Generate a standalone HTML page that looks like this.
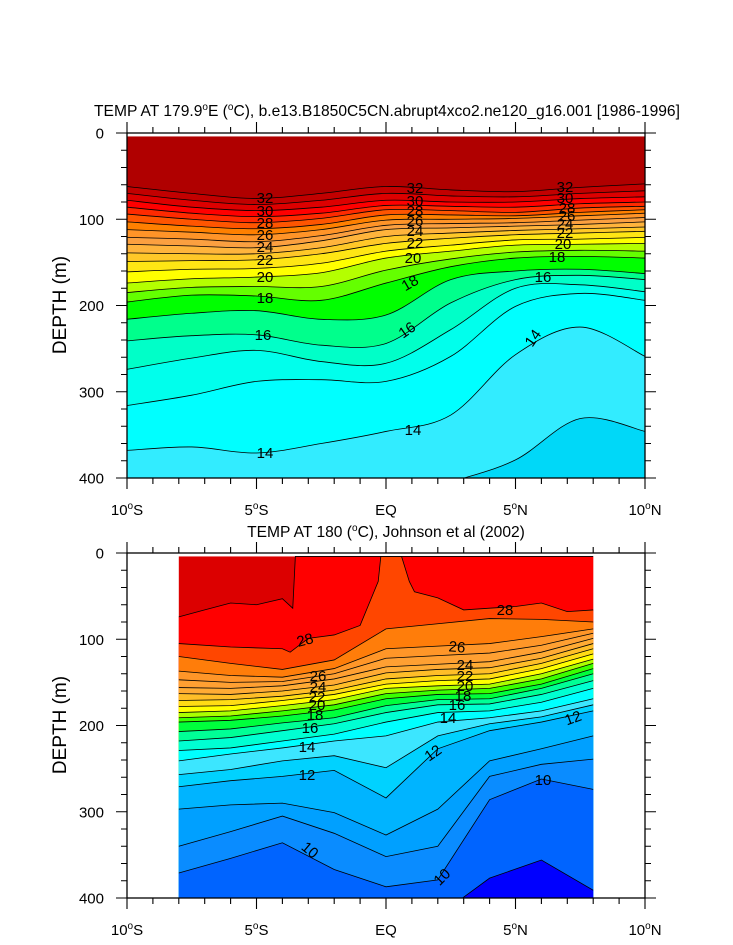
<!DOCTYPE html>
<html><head><meta charset="utf-8"><style>
html,body{margin:0;padding:0;background:#fff;}
svg{display:block;font-family:"Liberation Sans",Arial,sans-serif;}
</style></head><body>
<svg id="fig" width="733" height="945" viewBox="0 0 733 945" xmlns="http://www.w3.org/2000/svg">
<defs>
<clipPath id="clipTop"><rect x="127" y="133" width="518" height="345"/></clipPath>
<clipPath id="clipBot"><rect x="127" y="553" width="518" height="345"/></clipPath>
</defs>
<g id="topFill" clip-path="url(#clipTop)"></g>
<g id="botFill" clip-path="url(#clipBot)"></g>
<g id="topLabels" font-size="15" text-anchor="middle"></g>
<g id="botLabels" font-size="15" text-anchor="middle"></g>
<g id="axes"></g>
<text x="387" y="116" font-size="15.6" text-anchor="middle">TEMP AT 179.9<tspan dy="-6" font-size="10">o</tspan><tspan dy="6">E (</tspan><tspan dy="-6" font-size="10">o</tspan><tspan dy="6">C), b.e13.B1850C5CN.abrupt4xco2.ne120_g16.001 [1986-1996]</tspan></text>
<text x="386" y="537" font-size="15.6" text-anchor="middle">TEMP AT 180 (<tspan dy="-6" font-size="10">o</tspan><tspan dy="6">C), Johnson et al (2002)</tspan></text>
<text transform="translate(66,305) rotate(-90)" font-size="19" text-anchor="middle">DEPTH (m)</text>
<text transform="translate(66,725) rotate(-90)" font-size="19" text-anchor="middle">DEPTH (m)</text>
</svg>
<script>
// ---------- top panel (model) data ----------
const topLats = [-10, -7.5, -5, -2.5, 0, 2.5, 5, 7.5, 10];
const topLevels = [32, 31, 30, 29, 28, 27, 26, 25, 24, 23, 22, 21, 20, 19, 18, 17, 16, 15.5, 15, 14, 13];
const top32 = [62, 70, 76, 70, 62, 66, 68, 63, 59];
const top31 = [70, 78, 83, 78, 70, 73, 74, 70, 67];
const top30 = [78, 86, 90, 86, 78, 80, 80, 76, 74];
const top29 = [86, 93, 97, 93, 84, 85, 86, 82, 80];
const top28 = [94, 100, 104, 99, 89, 90, 92, 87, 85];
const top27 = [103, 108, 111, 106, 95, 95, 96, 92, 89];
const top26 = [112, 115, 118, 112, 101, 100, 99, 96, 93];
const top25 = [121, 123, 126, 119, 107, 105, 104, 101, 98];
const top24 = [129, 131, 133, 125, 112, 110, 108, 106, 103];
const top23 = [139, 140, 140, 133, 120, 116, 113, 111, 109];
const top22 = [149, 148, 147, 140, 128, 122, 118, 116, 114];
const top21 = [161, 158, 157, 151, 137, 130, 124, 123, 121];
const top20 = [174, 169, 167, 162, 145, 137, 130, 129, 128];
const top19 = [185, 179, 178, 178, 159, 146, 138, 136, 137];
const top18 = [196, 188, 189, 194, 174, 155, 145, 143, 145];
const top17 = [216, 209, 206, 216, 211, 170, 160, 158, 163];
const top16 = [241, 235, 234, 246, 244, 197, 170, 165, 170];
const top155 = [274, 261, 252, 265, 267, 228, 180, 176, 184];
const top15 = [316, 304, 288, 286, 288, 259, 201, 186, 194];
const top14 = [368, 364, 371, 360, 346, 327, 257, 225, 259];
const top13 = [430, 430, 430, 430, 430, 405, 379, 331, 346];
const topDepths = [top32, top31, top30, top29, top28, top27, top26, top25, top24, top23, top22, top21, top20, top19, top18, top17, top16, top155, top15, top14, top13];
const topColors = ['#b00000','#c20000','#dd0000','#ff0000','#ff2a00','#ff5500','#ff8000','#ff9428','#fba040','#ffb43c','#ffc828','#ffe614','#ffff00','#b4ff00','#64ff00','#00ff00','#00ff8c','#00ffc8','#00ffec','#00ffff','#32ecff','#00d8f8'];

// ---------- bottom panel (observations) data ----------
const botLats = [-8, -6, -4, -2, 0, 2, 4, 6, 8];
const bot29Lats = [-8, -7, -6, -5, -4, -3.6, -3.5, 8];
const bot29 = [74, 66, 58, 60, 53, 64, 0, 0];
const bot28Lats = [-8, -6, -4, -3.7, -3, -2, -1, -0.3, -0.2, 0.6, 0.9, 1.1, 2, 3, 4, 5, 6, 7, 8];
const bot28 = [105, 109, 111, 115, 99, 95, 84, 33, 0, 0, 33, 45, 52, 66, 64, 62, 58, 68, 66];
const botLevels = [27, 26, 25, 24, 23, 22, 21, 20, 19, 18, 17, 16, 15, 14, 13, 12, 11, 10.5, 10, 9];
const bot27 = [120, 128, 135, 124, 88, 82, 76, 77, 80];
const bot26 = [137, 142, 144, 134, 111, 108, 105, 97, 88];
const bot25 = [147, 150, 149, 140, 122, 119, 116, 107, 93];
const bot24 = [156, 157, 154, 146, 132, 129, 126, 115, 99];
const bot23 = [163, 164, 160, 153, 139, 135, 133, 122, 105];
const bot22 = [171, 170, 166, 159, 146, 142, 140, 128, 111];
const bot21 = [178, 177, 171, 164, 152, 148, 146, 134, 117];
const bot20 = [185, 183, 177, 170, 157, 154, 152, 140, 123];
const bot19 = [191, 189, 183, 176, 163, 159, 157, 146, 128];
const bot18 = [196, 194, 189, 182, 169, 164, 163, 152, 134];
const bot17 = [207, 204, 197, 191, 177, 170, 169, 157, 140];
const bot16 = [218, 214, 206, 198, 185, 176, 175, 164, 148];
const bot15 = [229, 226, 218, 210, 196, 185, 183, 173, 157];
const bot14 = [241, 233, 226, 218, 212, 196, 191, 183, 169];
const bot13 = [257, 251, 241, 235, 249, 212, 198, 190, 176];
const bot12 = [271, 264, 259, 252, 284, 227, 206, 196, 183];
const bot11 = [297, 292, 290, 301, 327, 297, 241, 227, 212];
const bot105 = [340, 323, 305, 325, 352, 340, 259, 245, 239];
const bot10 = [371, 354, 336, 367, 387, 379, 286, 262, 274];
const bot9 = [421, 421, 421, 421, 421, 421, 377, 356, 391];
const botDepths = [bot27, bot26, bot25, bot24, bot23, bot22, bot21, bot20, bot19, bot18, bot17, bot16, bot15, bot14, bot13, bot12, bot11, bot105, bot10, bot9];
const botColors = ['#dc0000','#ff0000','#ff4600','#ff7d0a','#ff9628','#ffa032','#ffab34','#ffbe28','#ffdc14','#ffff00','#aaff00','#3cff00','#00ff3c','#00ff96','#00ffd2','#00ffff','#3ce6ff','#00d2ff','#00b4ff','#00a0ff','#0a8cff','#0064ff','#0000ff'];

// ---------- axis functions ----------
function xScale(lat){ return 127 + (lat + 10) / 20 * 518; }
function yTop(d){ return 133 + d / 400 * 345; }
function yBot(d){ return 553 + d / 400 * 345; }
const NS = 'http://www.w3.org/2000/svg';

function smoothPath(pts, start){
  let s = (start ? 'M' : 'L') + pts[0][0].toFixed(2) + ',' + pts[0][1].toFixed(2);
  for (let i = 0; i < pts.length - 1; i++){
    const p0 = pts[Math.max(0, i - 1)], p1 = pts[i], p2 = pts[i + 1], p3 = pts[Math.min(pts.length - 1, i + 2)];
    const c1x = p1[0] + (p2[0] - p0[0]) / 6, c1y = p1[1] + (p2[1] - p0[1]) / 6;
    const c2x = p2[0] - (p3[0] - p1[0]) / 6, c2y = p2[1] - (p3[1] - p1[1]) / 6;
    s += 'C' + c1x.toFixed(2) + ',' + c1y.toFixed(2) + ' ' + c2x.toFixed(2) + ',' + c2y.toFixed(2) + ' ' + p2[0].toFixed(2) + ',' + p2[1].toFixed(2);
  }
  return s;
}
function linePath(pts, start){
  return pts.map((p, i) => (i === 0 && start ? 'M' : 'L') + p[0].toFixed(2) + ',' + p[1].toFixed(2)).join('');
}

function drawPanel(g, lineSets, colors, yFn, x0, x1, smooth, name){
  const gen = smooth ? smoothPath : linePath;
  const yTopEdge = yFn(4), yBottom = yFn(400) + 2;
  const base = document.createElementNS(NS, 'rect');
  base.setAttribute('x', x0); base.setAttribute('y', yTopEdge);
  base.setAttribute('width', x1 - x0); base.setAttribute('height', yBottom - yTopEdge);
  base.setAttribute('fill', colors[0]);
  
  
  g.appendChild(base);
  lineSets.forEach((ls, i) => {
    const pts = ls.lats.map((la, k) => [xScale(la), Math.max(yTopEdge, yFn(ls.depths[k]))]);
    const d = gen(pts, true) + 'L' + pts[pts.length - 1][0] + ',' + yBottom + 'L' + pts[0][0] + ',' + yBottom + 'Z';
    const band = document.createElementNS(NS, 'path');
    band.setAttribute('d', d);
    band.setAttribute('fill', colors[i + 1]);
    
    
    g.appendChild(band);
  });
  lineSets.forEach((ls) => {
    const pts = ls.lats.map((la, k) => [xScale(la), Math.max(yTopEdge, yFn(ls.depths[k]))]);
    const ln = document.createElementNS(NS, 'path');
    ln.setAttribute('d', gen(pts, true));
    ln.setAttribute('fill', 'none');
    ln.setAttribute('stroke', '#000');
    ln.setAttribute('stroke-width', '0.8');
    
    
    g.appendChild(ln);
  });
}

const topSets = topDepths.map((d, i) => ({lats: topLats, depths: d, level: topLevels[i]}));
drawPanel(document.getElementById('topFill'), topSets, topColors, yTop, 127, 645, true, 'model');

const botSets = [{lats: bot29Lats, depths: bot29, level: 29}, {lats: bot28Lats, depths: bot28, level: 28}]
  .concat(botDepths.map((d, i) => ({lats: botLats, depths: d, level: botLevels[i]})));
drawPanel(document.getElementById('botFill'), botSets, botColors, yBot, xScale(-8), xScale(8), false, 'observed');

// ---------- contour labels (placement only) ----------
function addLabel(g, txt, x, y, rot, name){
  const t = document.createElementNS(NS, 'text');
  t.setAttribute('x', x); t.setAttribute('y', y + 5);
  if (rot) t.setAttribute('transform', 'rotate(' + rot + ' ' + x + ' ' + y + ')');
  t.textContent = txt;
  
  
  g.appendChild(t);
}
const tl = document.getElementById('topLabels');
[['32',265,198,0],['30',265,211,0],['28',265,223,0],['26',265,235,0],['24',265,247,0],['22',265,260,0],['20',265,277,0],['18',265,298,0],
 ['32',415,188,0],['30',415,201,0],['28',415,211,0],['26',415,221,0],['24',415,231,0],['22',415,243,0],['20',413,258,0],['18',410,283,-30],
 ['32',565,187,0],['30',565,198,0],['28',567,208,0],['26',567,216,0],['24',565,224,0],['22',565,233,0],['20',563,244,0],['18',557,257,0],['16',543,277,0],
 ['16',263,335,0],['16',407,330,-35],['14',533,338,-55],['14',413,430,0],['14',265,453,0]
].forEach(l => addLabel(tl, l[0], l[1], l[2], l[3], 'model-contour-label-' + l[0]));
const bl = document.getElementById('botLabels');
[['28',305,640,-15],['28',505,610,0],['26',457,647,5],['26',318,676,0],['24',318,687,0],['22',317,697,0],['20',317,705,0],['18',315,715,0],['16',310,728,0],
 ['24',465,665,0],['22',465,676,0],['20',465,686,0],['18',463,696,0],['16',457,705,0],['14',448,718,0],['12',573,718,-20],
 ['14',307,747,0],['12',307,775,0],['12',433,753,-35],['10',543,780,0],['10',310,850,40],['10',442,877,-45]
].forEach(l => addLabel(bl, l[0], l[1], l[2], l[3], 'observed-contour-label-' + l[0]));

// ---------- axes ----------
const ax = document.getElementById('axes');
function el(tag, attrs, name){
  const e = document.createElementNS(NS, tag);
  for (const k in attrs) e.setAttribute(k, attrs[k]);
  
  
  ax.appendChild(e);
  return e;
}
const xTickLabels = ['10', '5', 'EQ', '5', '10'];
const xTickHemis = ['S', 'S', '', 'N', 'N'];
const xTickVals = [-10, -5, 0, 5, 10];
const yTickVals = [0, 100, 200, 300, 400];
[[133, yTop, 'top'], [553, yBot, 'bottom']].forEach(([y0, yFn, nm]) => {
  const y1 = y0 + 345;
  el('rect', {x: 127, y: y0, width: 518, height: 345, fill: 'none', stroke: '#000', 'stroke-width': 1.3}, nm + '-plot-frame');
  let d = '';
  for (let lat = -10; lat <= 10; lat++){
    const x = xScale(lat), L = (lat % 5 === 0) ? 11 : 6;
    d += 'M' + x + ',' + y1 + 'v' + L + 'M' + x + ',' + y0 + 'v' + (-L);
  }
  for (let dep = 0; dep <= 400; dep += 20){
    const y = yFn(dep), L = (dep % 100 === 0) ? 11 : 6;
    d += 'M127,' + y + 'h' + (-L) + 'M645,' + y + 'h' + L;
  }
  el('path', {d: d, stroke: '#000', 'stroke-width': 1.1, fill: 'none'}, nm + '-tick-marks');
  yTickVals.forEach(v => {
    const t = el('text', {x: 104, y: yFn(v) + 5.5, 'font-size': 15, 'text-anchor': 'end'}, nm + '-y-tick-label');
    t.textContent = String(v);
  });
  xTickVals.forEach((v, i) => {
    const t = el('text', {x: xScale(v), y: y1 + 37, 'font-size': 15, 'text-anchor': 'middle'}, nm + '-x-tick-label');
    if (xTickHemis[i]){
      t.innerHTML = xTickLabels[i] + '<tspan dy="-6" font-size="10">o</tspan><tspan dy="6">' + xTickHemis[i] + '</tspan>';
    } else {
      t.textContent = xTickLabels[i];
    }
  });
});
</script>
</body></html>
